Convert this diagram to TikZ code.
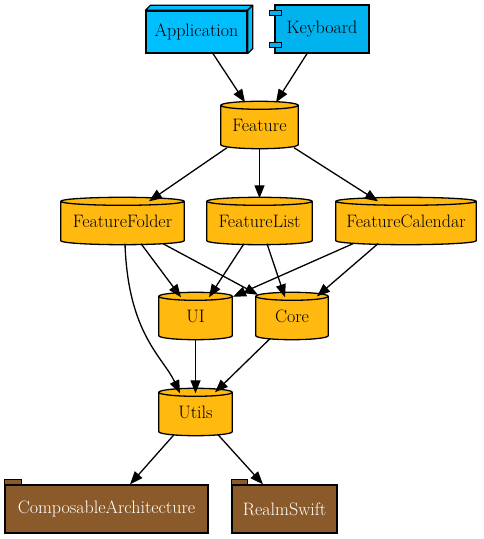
\documentclass[tikz,border=0pt]{standalone}
\usepackage{fontspec}
\usetikzlibrary{calc,arrows.meta}
\definecolor{appblue}{HTML}{00BFFF}
\definecolor{kbdblue}{HTML}{00B2EE}
\definecolor{cylgold}{HTML}{FFB90F}
\definecolor{pkgbrown}{HTML}{8B5A2B}
\pgfdeclarelayer{background}
\pgfsetlayers{background,main}
\tikzset{
  lbl/.style={font=\rmfamily\fontsize{18}{21}\selectfont, inner sep=0pt, anchor=center},
  cylnode/.style={lbl, minimum height=47pt},
  cylstyle/.style={fill=cylgold, draw=black, line width=1.3pt},
  blueboxa/.style={lbl, draw=black, fill=appblue, line width=1.3pt},
  blueboxb/.style={lbl, draw=black, fill=kbdblue, line width=1.3pt},
  pkgbox/.style={lbl, draw=black, fill=pkgbrown, text=white, line width=1.3pt, minimum height=48pt},
  edge/.style={line width=1.3pt, -{Triangle[length=13pt,width=10pt]}}
}
\newcommand\cylshape[1]{%
  \begin{pgfonlayer}{background}
  \path[cylstyle] let \p1=(#1.north west), \p2=(#1.south east), \n1={(\x2-\x1)/2} in
    (\x1,\y1-4pt) -- (\x1,\y2+4pt)
    arc[start angle=180,end angle=360,x radius=\n1,y radius=4pt]
    -- (\x2,\y1-4pt)
    arc[start angle=0,end angle=180,x radius=\n1,y radius=4pt] -- cycle
    (\x1,\y1-4pt) arc[start angle=180,end angle=360,x radius=\n1,y radius=4pt];
  \end{pgfonlayer}}
\begin{document}
\begin{tikzpicture}[x=1pt,y=1pt]
\useasboundingbox (0,0) rectangle (483,539);
% top nodes
\node[blueboxa, minimum width=101pt, minimum height=42pt] (app) at (196.5,507) {Application};
\draw[fill=appblue, line width=1.3pt, line join=round] (app.north west) -- ++(5,5) -- ([shift={(5,5)}]app.north east) -- (app.north east) -- cycle;
\draw[fill=appblue, line width=1.3pt, line join=round] (app.north east) -- ++(5,5) -- ([shift={(5,5)}]app.south east) -- (app.south east) -- cycle;
\node[blueboxb, minimum width=94pt, minimum height=48pt] (kbd) at (322,510) {Keyboard};
\draw[fill=kbdblue, line width=1.3pt] ([xshift=-5,yshift=-6]kbd.north west) rectangle ([xshift=7,yshift=-11]kbd.north west);
\draw[fill=kbdblue, line width=1.3pt] ([xshift=-5,yshift=6]kbd.south west) rectangle ([xshift=7,yshift=11]kbd.south west);
% cylinders
\node[cylnode, minimum width=77pt] (feat) at (259.5,414) {Feature};
\node[cylnode, minimum width=123pt] (ff) at (122.5,318) {FeatureFolder};
\node[cylnode, minimum width=105pt] (fl) at (259.5,318) {FeatureList};
\node[cylnode, minimum width=140pt] (fc) at (406,318) {FeatureCalendar};
\node[cylnode, minimum width=73pt] (ui) at (195.5,223) {UI};
\node[cylnode, minimum width=72pt] (core) at (292,223) {Core};
\node[cylnode, minimum width=73pt] (utils) at (195.5,127) {Utils};
\foreach \nm in {feat,ff,fl,fc,ui,core,utils}{\cylshape{\nm}}
% packages
\node[pkgbox, minimum width=203pt] (ca) at (106.5,30) {ComposableArchitecture};
\draw[fill=pkgbrown, line width=1.3pt] (ca.north west) rectangle ([xshift=17,yshift=5]ca.north west);
\node[pkgbox, minimum width=105pt] (rs) at (284.5,30) {RealmSwift};
\draw[fill=pkgbrown, line width=1.3pt] (rs.north west) rectangle ([xshift=16,yshift=5]rs.north west);
% edges
\draw[edge] ([xshift=16.5]app.south) -- ([xshift=-14.5,yshift=-1]feat.north);
\draw[edge] ([xshift=-15]kbd.south) -- ([xshift=16.5,yshift=-1]feat.north);
\draw[edge] ([xshift=-32.5,yshift=1]feat.south) -- ([xshift=26.5,yshift=-4]ff.north);
\draw[edge] (feat.south) -- ([yshift=-1]fl.north);
\draw[edge] ([xshift=34.5,yshift=1]feat.south) -- ([xshift=-28,yshift=-4]fc.north);
\draw[edge] ([xshift=18.5,yshift=1]ff.south) -- ([xshift=-14.5,yshift=-5]ui.north);
\draw[edge] ([xshift=40.5,yshift=1]ff.south) -- ([xshift=-34,yshift=-2.5]core.north);
\draw[edge] ([xshift=2.5,yshift=1]ff.south) .. controls (128,205) and (163,182) .. ([xshift=-15.5,yshift=-5]utils.north);
\draw[edge] ([xshift=-15.5,yshift=1]fl.south) -- ([xshift=13.5,yshift=-5]ui.north);
\draw[edge] ([xshift=7.5,yshift=1]fl.south) -- ([xshift=-7,yshift=-5]core.north);
\draw[edge] ([xshift=-53,yshift=1]fc.south) -- ([xshift=37.5,yshift=-4.5]ui.north);
\draw[edge] ([xshift=-28,yshift=1]fc.south) -- ([xshift=25,yshift=-4]core.north);
\draw[edge] (ui.south) -- ([yshift=-5]utils.north);
\draw[edge] ([xshift=-22,yshift=1]core.south) -- ([xshift=19.5,yshift=-4]utils.north);
\draw[edge] ([xshift=-21.5,yshift=1]utils.south) -- ([xshift=23.5]ca.north);
\draw[edge] ([xshift=22.5,yshift=1]utils.south) -- ([xshift=-21.5]rs.north);
\end{tikzpicture}
\end{document}
